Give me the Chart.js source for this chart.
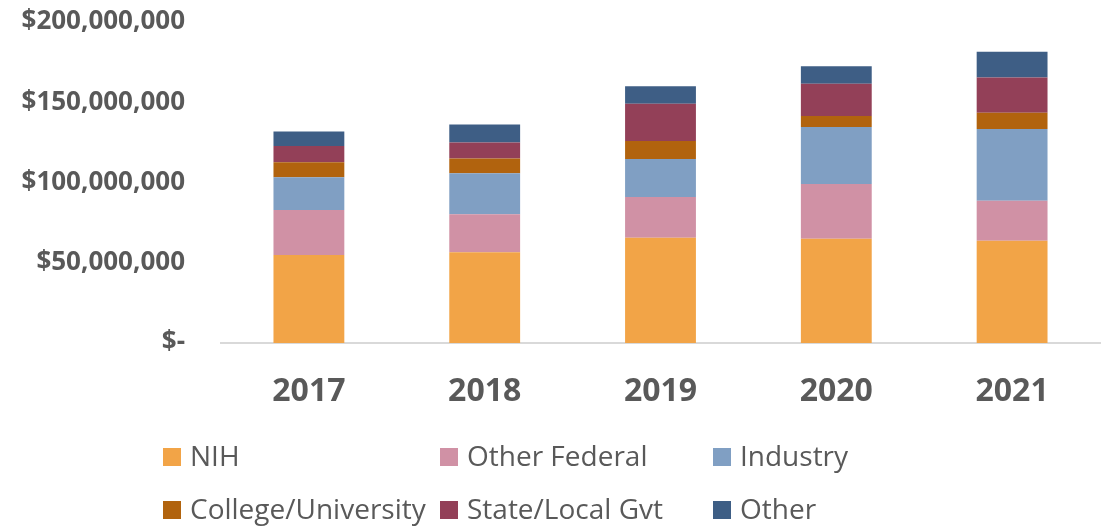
<!DOCTYPE html>
<html>
<head>
<meta charset="utf-8">
<script src="https://cdn.jsdelivr.net/npm/chart.js@4/dist/chart.umd.min.js"></script>
<style>
  html, body { margin: 0; padding: 0; background: #fff; }
  #wrap { width: 1105px; height: 527px; position: relative; }
</style>
</head>
<body>
<div id="wrap"><canvas id="fundingChart" width="1105" height="527"></canvas></div>
<script>
const years = ["2017", "2018", "2019", "2020", "2021"];

// funding by source, dollars
const nih = [54800000, 56600000, 65500000, 64900000, 63700000];
const otherFederal = [28000000, 23600000, 25500000, 34200000, 24900000];
const industry = [20500000, 25500000, 23600000, 35500000, 44800000];
const college = [9300000, 9300000, 11200000, 6800000, 10000000];
const stateLocal = [10100000, 10000000, 23200000, 20100000, 22000000];
const other = [9100000, 11200000, 11000000, 11000000, 16000000];

const yTicks = [0, 50000000, 100000000, 150000000, 200000000];

const textGray = "#595959";

// legend drawn as a 3 x 2 grid, like the original
const gridLegend = {
  id: "gridLegend",
  afterDraw(chart, args, opts) {
    const ctx = chart.ctx;
    ctx.save();
    ctx.font = opts.font;
    ctx.textBaseline = "middle";
    ctx.textAlign = "left";
    chart.data.datasets.forEach((ds, i) => {
      const col = i % 3;
      const row = Math.floor(i / 3);
      const x = opts.cols[col];
      const y = opts.rows[row];
      ctx.fillStyle = ds.backgroundColor;
      ctx.fillRect(x, y - opts.box / 2, opts.box, opts.box);
      ctx.fillStyle = textGray;
      ctx.fillText(ds.label, x + opts.gap, y + 1);
    });
    ctx.restore();
  }
};

const ctx = document.getElementById("fundingChart").getContext("2d");
const chart = new Chart(ctx, {
  type: "bar",
  data: {
    labels: years,
    datasets: [
      { label: "NIH", data: nih, backgroundColor: "#F2A447" },
      { label: "Other Federal", data: otherFederal, backgroundColor: "#D091A5" },
      { label: "Industry", data: industry, backgroundColor: "#809FC3" },
      { label: "College/University", data: college, backgroundColor: "#B1630E" },
      { label: "State/Local Gvt", data: stateLocal, backgroundColor: "#934058" },
      { label: "Other", data: other, backgroundColor: "#3E5E85" }
    ]
  },
  options: {
    responsive: false,
    animation: false,
    categoryPercentage: 1,
    barPercentage: 0.403,
    layout: { padding: { top: 22, right: 5, bottom: 124, left: 0 } },
    plugins: {
      legend: { display: false },
      tooltip: { enabled: false },
      gridLegend: {
        cols: [163, 440, 713],
        rows: [457, 510],
        box: 18,
        gap: 27,
        font: "28px 'Open Sans'"
      }
    },
    scales: {
      x: {
        stacked: true,
        grid: { display: false, drawTicks: false },
        border: { display: true, color: "#D9D9D9", width: 2 },
        ticks: {
          color: textGray,
          padding: 30,
          font: { family: "'Open Sans'", size: 32, weight: "bold" }
        },
        afterFit(scale) { scale.height = 60; }
      },
      y: {
        stacked: true,
        min: 0,
        max: 200000000,
        grid: { display: false, drawTicks: false },
        border: { display: false },
        afterBuildTicks(scale) {
          scale.ticks = yTicks.map(v => ({ value: v }));
        },
        ticks: {
          color: textGray,
          padding: 36,
          font: { family: "'Open Sans'", size: 26, weight: "bold" },
          callback: v => v === 0 ? "$-" : "$" + v.toLocaleString("en-US")
        },
        afterFit(scale) {
          scale.width = 221;
          scale.paddingTop = 0;
          scale.paddingBottom = 0;
        }
      }
    }
  },
  plugins: [gridLegend]
});
</script>
</body>
</html>
